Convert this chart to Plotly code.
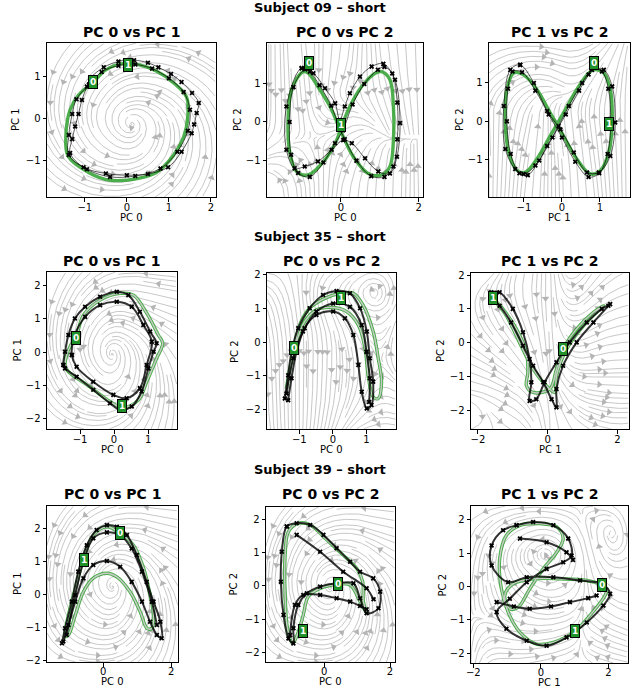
import math
import numpy as np
import plotly.graph_objects as go

try:
    from plotly.figure_factory._streamline import _Streamline
except Exception:  # pragma: no cover
    _Streamline = None
import plotly.figure_factory as ff

W, H = 632, 687

# ---------------------------------------------------------------- data
SUBJECT_TITLES = ["Subject 09 \u2013 short", "Subject 35 \u2013 short", "Subject 39 \u2013 short"]
PANEL_TITLES = ["PC 0 vs PC 1", "PC 0 vs PC 2", "PC 1 vs PC 2"]
PANEL_XLABELS = ["PC 0", "PC 0", "PC 1"]
PANEL_YLABELS = ["PC 1", "PC 2", "PC 2"]

# ---- Subject 09, PC0 vs PC1
S09_01_GREEN_X = [-0.80, -0.50, -0.10, 0.30, 0.70, 1.10, 1.42, 1.45, 1.35, 1.10, 0.70, 0.30, -0.40, -0.90, -1.40, -1.45, -1.35, -1.15, -0.80]
S09_01_GREEN_Y = [0.86, 1.15, 1.30, 1.27, 1.12, 0.85, 0.50, 0.05, -0.45, -0.90, -1.30, -1.43, -1.48, -1.30, -0.90, -0.40, 0.20, 0.55, 0.86]
S09_01_BLACK_A_X = [-0.87, -0.55, -0.20, 0.17, 0.50, 0.75, 1.05, 1.30, 1.55, 1.71, 1.66, 1.60, 1.54, 1.30, 0.98, 0.50, 0.00, -0.50, -1.03, -1.35, -1.30, -1.23, -1.15, -1.07, -0.95, -0.87]
S09_01_BLACK_A_Y = [0.95, 1.21, 1.35, 1.38, 1.32, 1.21, 1.05, 0.86, 0.60, 0.36, 0.12, -0.15, -0.36, -0.80, -1.17, -1.33, -1.36, -1.32, -1.17, -0.83, -0.50, -0.20, 0.10, 0.43, 0.75, 0.95]
S09_01_BLACK_B_X = [-0.90, -0.60, -0.20, 0.20, 0.60, 1.00, 1.35, 1.50, 1.45, 1.20, 0.80, 0.20, -0.40, -0.95, -1.38, -1.38, -1.30, -1.20, -0.90]
S09_01_BLACK_B_Y = [0.80, 1.10, 1.25, 1.28, 1.18, 0.95, 0.62, 0.20, -0.30, -0.80, -1.20, -1.38, -1.40, -1.22, -0.88, -0.40, 0.10, 0.45, 0.80]
S09_01_LABELS = [(-0.80, 0.86, "0"), (0.02, 1.27, "1")]
S09_01_FIELD = [
    [325, 340, 2, 28, 50, 65],
    [310, 323, 352, 38, 67, 80],
    [291, 295, 313, 77, 95, 99],
    [270, 262, 233, 157, 128, 120],
    [253, 239, 213, 177, 151, 137],
    [240, 226, 206, 184, 164, 150],
]

# ---- Subject 09, PC0 vs PC2
S09_02_GREEN_X = [-0.97, -1.27, -1.36, -1.31, -1.14, -0.84, -0.41, -0.11, 0.00, 0.23, 0.53, 0.88, 1.05, 1.26, 1.35, 1.35, 1.26, 1.05, 0.70, 0.32, 0.06, -0.07, -0.28, -0.59, -0.84, -0.97]
S09_02_GREEN_Y = [1.30, 0.83, -0.03, -0.81, -1.28, -1.37, -0.98, -0.47, -0.16, 0.40, 0.91, 1.26, 1.30, 1.09, 0.40, -0.47, -1.15, -1.37, -1.33, -0.90, -0.38, -0.08, 0.40, 0.91, 1.26, 1.30]
S09_02_BLACK_A_X = [-1.01, -1.40, -1.40, -1.19, -0.93, -0.59, -0.24, 0.06, 0.28, 0.62, 0.96, 1.26, 1.44, 1.52, 1.39, 1.09, 0.79, 0.49, 0.23, 0.10, -0.03, -0.15, -0.41, -0.71, -1.01]
S09_02_BLACK_A_Y = [1.39, 0.40, -0.72, -1.20, -1.15, -1.02, -0.72, -0.47, -0.55, -0.94, -1.28, -1.33, -0.90, -0.03, 1.09, 1.50, 1.43, 1.17, 0.74, 0.40, 0.05, 0.48, 0.87, 1.26, 1.39]
S09_02_BLACK_B_X = [-0.92, -1.22, -1.32, -1.28, -1.10, -0.80, -0.45, -0.15, 0.05, 0.30, 0.60, 0.95, 1.12, 1.32, 1.45, 1.45, 1.35, 1.12, 0.78, 0.40, 0.10, -0.05, -0.25, -0.55, -0.80, -0.92]
S09_02_BLACK_B_Y = [1.36, 0.90, 0.00, -0.85, -1.32, -1.42, -1.05, -0.55, -0.22, 0.45, 0.98, 1.35, 1.42, 1.25, 0.50, -0.45, -1.15, -1.42, -1.40, -1.00, -0.45, -0.12, 0.42, 0.95, 1.30, 1.36]
S09_02_LABELS = [(-0.82, 1.52, "0"), (0.00, -0.08, "1")]
S09_02_FIELD = [
    [95, 90, 85, 90, 90],
    [200, 120, 60, 80, 95],
    [265, 280, 20, 290, 270],
    [270, 275, 250, 285, 270],
    [270, 275, 265, 275, 270],
]

# ---- Subject 09, PC1 vs PC2
S09_12_GREEN_X = [0.83, 1.10, 1.27, 1.32, 1.23, 1.01, 0.75, 0.39, 0.04, -0.31, -0.66, -1.01, -1.27, -1.45, -1.49, -1.40, -1.18, -0.97, -0.66, -0.31, 0.04, 0.39, 0.66, 0.83]
S09_12_GREEN_Y = [1.34, 1.26, 0.83, -0.03, -0.81, -1.28, -1.37, -0.98, -0.38, 0.22, 0.83, 1.21, 1.26, 0.83, -0.03, -0.81, -1.28, -1.33, -0.98, -0.38, 0.22, 0.83, 1.21, 1.34]
S09_12_BLACK_A_X = [-1.10, -1.36, -1.53, -1.49, -1.23, -1.01, -0.70, -0.39, -0.09, 0.18, 0.53, 0.79, 1.10, 1.32, 1.40, 1.27, 0.97, 0.66, 0.31, -0.04, -0.39, -0.74, -1.10]
S09_12_BLACK_A_Y = [1.47, 1.34, 0.40, -0.72, -1.24, -1.37, -1.15, -0.64, -0.12, 0.40, 1.00, 1.34, 1.34, 0.91, -0.03, -0.90, -1.33, -1.33, -0.81, -0.21, 0.27, 1.00, 1.47]
S09_12_BLACK_B_X = [0.78, 1.05, 1.22, 1.28, 1.20, 0.98, 0.70, 0.35, 0.00, -0.35, -0.70, -1.05, -1.30, -1.42, -1.45, -1.35, -1.12, -0.90, -0.60, -0.25, 0.10, 0.45, 0.70, 0.78]
S09_12_BLACK_B_Y = [1.40, 1.30, 0.85, 0.00, -0.85, -1.35, -1.45, -1.05, -0.42, 0.18, 0.80, 1.28, 1.30, 0.85, 0.00, -0.85, -1.35, -1.40, -1.02, -0.42, 0.18, 0.80, 1.22, 1.40]
S09_12_LABELS = [(0.83, 1.52, "0"), (1.25, -0.08, "1")]
S09_12_FIELD = [
    [90, 85, 90, 95, 90],
    [90, 80, 95, 100, 90],
    [95, 75, 100, 95, 90],
    [45, 20, 330, 60, 90],
    [20, 0, 350, 30, 80],
]

# ---- Subject 35, PC0 vs PC1
S35_01_GREEN_X = [-1.12, -0.90, -0.41, 0.18, 0.57, 0.96, 1.30, 1.43, 1.25, 0.96, 0.72, 0.27, -0.12, -0.71, -1.34, -1.44, -1.39, -1.27, -1.12]
S35_01_GREEN_Y = [0.43, 1.10, 1.55, 1.75, 1.70, 1.16, 0.51, 0.26, -0.19, -0.89, -1.43, -1.66, -1.48, -1.04, -0.59, -0.44, -0.09, 0.21, 0.43]
S35_01_BLACK_A_X = [-1.49, -1.44, -1.34, -1.15, -0.85, -0.41, 0.08, 0.42, 0.76, 1.06, 1.25, 1.16, 1.01, 0.81, 0.52, 0.18, -0.12, -0.61, -1.10, -1.44, -1.49]
S35_01_BLACK_A_Y = [-0.39, 0.01, 0.51, 1.00, 1.35, 1.65, 1.80, 1.70, 1.20, 0.61, 0.26, 0.01, -0.49, -1.18, -1.63, -1.73, -1.53, -1.13, -0.74, -0.49, -0.39]
S35_01_BLACK_B_X = [-1.24, -1.15, -0.85, -0.41, 0.08, 0.52, 0.86, 1.11, 0.96, 0.76, 0.37, -0.02, -0.61, -1.10, -1.24]
S35_01_BLACK_B_Y = [-0.09, 0.51, 1.05, 1.40, 1.50, 1.35, 0.81, 0.31, -0.39, -1.08, -1.38, -1.28, -0.89, -0.44, -0.09]
S35_01_LABELS = [(-1.12, 0.43, "0"), (0.23, -1.61, "1")]
S35_01_FIELD = [
    [330, 345, 5, 30, 60, 80],
    [310, 323, 352, 38, 75, 95],
    [291, 295, 313, 77, 100, 120],
    [270, 262, 233, 157, 140, 150],
    [253, 239, 213, 177, 165, 170],
    [240, 226, 206, 184, 175, 175],
]

# ---- Subject 35, PC0 vs PC2
S35_02_GREEN_X = [-1.15, -0.99, -0.69, -0.24, 0.23, 0.61, 0.90, 1.20, 1.35, 1.45, 1.35, 1.20, 1.05, 0.96, 0.76, 0.41, 0.01, -0.49, -0.84, -1.08, -1.28, -1.38]
S35_02_GREEN_Y = [-0.19, 0.50, 1.00, 1.29, 1.44, 1.44, 1.09, 0.31, -0.48, -1.17, -1.67, -1.62, -0.98, -0.19, 0.50, 0.90, 1.02, 0.95, 0.60, 0.01, -0.78, -1.37]
S35_02_BLACK_A_X = [-1.43, -1.33, -1.23, -1.03, -0.69, -0.29, 0.11, 0.51, 0.81, 1.01, 1.10, 1.20, 1.15, 1.01, 0.86, 0.76, 0.61, 0.36, 0.01, -0.49, -0.84, -1.08, -1.23, -1.33]
S35_02_BLACK_A_Y = [-1.67, -0.98, -0.29, 0.41, 1.00, 1.39, 1.51, 1.44, 1.00, 0.31, -0.48, -1.17, -1.86, -1.96, -1.47, -0.68, 0.21, 0.70, 0.90, 0.80, 0.41, -0.29, -1.07, -1.72]
S35_02_BLACK_B_X = [-1.38, -1.18, -0.89, -0.49, 0.01, 0.51, 0.86, 1.00, 1.10, 1.08]
S35_02_BLACK_B_Y = [-1.52, -0.48, 0.31, 0.90, 1.14, 1.04, 0.50, -0.29, -1.07, -1.77]
S35_02_LABELS = [(-1.15, -0.19, "0"), (0.23, 1.31, "1")]
S35_02_FIELD = [
    [280, 270, 250, 200, 170],
    [270, 270, 265, 250, 150],
    [275, 270, 270, 290, 90],
    [290, 280, 300, 330, 60],
    [0, 270, 210, 200, 120],
]

# ---- Subject 35, PC1 vs PC2
S35_12_GREEN_X = [-1.56, -1.29, -0.90, -0.61, -0.57, -0.61, -0.42, 0.06, 0.25, 0.44, 0.83, 1.31, 1.60, 1.50, 1.02, 0.54, 0.25, 0.20, -0.04, -0.42, -0.81, -1.19, -1.48]
S35_12_GREEN_Y = [1.31, 1.00, 0.41, -0.29, -0.88, -1.27, -1.47, -1.37, -0.78, -0.19, 0.41, 0.90, 1.09, 1.00, 0.50, -0.19, -0.98, -1.47, -1.27, -0.78, 0.01, 0.80, 1.19]
S35_12_BLACK_A_X = [-1.62, -1.38, -1.00, -0.71, -0.52, -0.47, -0.52, -0.33, -0.09, 0.25, 0.63, 1.12, 1.55, 1.79]
S35_12_BLACK_A_Y = [1.49, 1.49, 1.00, 0.31, -0.48, -1.17, -1.72, -1.67, -1.17, -0.58, 0.01, 0.60, 1.00, 1.14]
S35_12_BLACK_B_X = [1.74, 1.31, 0.83, 0.44, 0.25, 0.25, 0.11, -0.13, -0.42, -0.71, -1.05, -1.38, -1.62]
S35_12_BLACK_B_Y = [1.09, 0.60, 0.01, -0.68, -1.37, -1.91, -1.67, -1.17, -0.68, -0.09, 0.60, 1.09, 1.34]
S35_12_LABELS = [(-1.56, 1.31, "1"), (0.44, -0.19, "0")]
S35_12_FIELD = [
    [200, 330, 270, 330, 10],
    [350, 330, 280, 350, 0],
    [330, 310, 270, 20, 0],
    [280, 300, 270, 40, 10],
    [190, 250, 270, 60, 20],
]

# ---- Subject 39, PC0 vs PC1
S39_01_GREEN_X = [-0.63, -0.29, 0.11, 0.50, 0.89, 1.19, 1.38, 1.48, 1.43, 1.29, 1.09, 0.79, 0.40, 0.11, -0.29, -0.58, -0.82, -1.02, -1.12, -1.02, -0.82, -0.63]
S39_01_GREEN_Y = [0.88, 1.79, 2.04, 1.84, 1.48, 0.78, -0.03, -0.64, -1.04, -1.04, -0.54, 0.07, 0.52, 0.63, 0.48, 0.07, -0.64, -1.24, -1.29, -0.64, 0.17, 0.88]
S39_01_BLACK_A_X = [-1.21, -1.12, -0.92, -0.73, -0.48, -0.19, 0.11, 0.40, 0.70, 0.99, 1.28, 1.48, 1.68, 1.72, 1.58, 1.38, 1.14, 0.84, 0.50, 0.11, -0.29, -0.58, -0.82, -1.02, -1.17]
S39_01_BLACK_A_Y = [-1.49, -1.04, -0.23, 0.68, 1.48, 1.94, 2.09, 2.04, 1.79, 1.18, 0.37, -0.23, -0.84, -1.34, -1.24, -0.84, -0.23, 0.37, 0.83, 1.00, 0.88, 0.48, -0.23, -0.94, -1.44]
S39_01_BLACK_B_X = [-1.07, -0.82, -0.58, -0.29, 0.11, 0.50, 0.84, 1.14, 1.43, 1.58]
S39_01_BLACK_B_Y = [-1.24, -0.03, 0.98, 1.69, 1.87, 1.79, 1.38, 0.68, -0.23, -0.94]
S39_01_LABELS = [(-0.55, 1.03, "1"), (0.50, 1.84, "0")]
S39_01_FIELD = [
    [330, 350, 0, 20, 50, 70],
    [300, 320, 350, 40, 70, 90],
    [280, 290, 320, 70, 100, 110],
    [265, 255, 230, 160, 130, 140],
    [250, 235, 210, 180, 160, 165],
    [235, 220, 200, 185, 175, 175],
]

# ---- Subject 39, PC0 vs PC2
S39_02_GREEN_X = [-1.18, -1.08, -0.78, -0.42, 0.08, 0.58, 0.99, 1.17, 1.19, 1.27, 1.09, 0.79, 0.43, -0.12, -0.48, -0.63, -0.78, -0.95, -1.11, -1.18, -1.18]
S39_02_GREEN_Y = [0.93, 1.64, 1.89, 1.84, 1.39, 0.93, 0.53, 0.13, -0.47, -0.77, -0.47, 0.03, 0.05, -0.07, -0.32, -0.87, -1.38, -1.73, -1.27, -0.27, 0.93]
S39_02_BLACK_A_X = [-1.13, -0.83, -0.42, -0.02, 0.38, 0.79, 1.09, 1.49, 1.70, 1.65, 1.29, 1.09, 0.89, 0.38, -0.12, -0.52, -0.78, -0.93, -0.93, -1.08, -1.23, -1.31, -1.28, -1.13]
S39_02_BLACK_A_Y = [1.79, 1.89, 1.84, 1.54, 1.14, 0.73, 0.43, 0.23, -0.17, -0.67, -0.82, -0.37, 0.08, 0.08, -0.02, -0.22, -0.57, -1.27, -1.73, -1.58, -0.87, 0.13, 1.03, 1.79]
S39_02_BLACK_B_X = [-1.03, -0.88, -0.63, -0.12, 0.38, 0.79, 1.09, 1.29]
S39_02_BLACK_B_Y = [-1.48, -0.57, -0.27, -0.27, -0.37, -0.47, -0.60, -0.70]
S39_02_BLACK_C_X = [-0.83, -0.12, 0.58, 1.29, 1.50]
S39_02_BLACK_C_Y = [1.54, 1.03, 0.43, -0.07, -0.40]
S39_02_LABELS = [(0.43, 0.05, "0"), (-0.65, -1.35, "1")]
S39_02_FIELD = [
    [330, 350, 0, 20, 50, 70],
    [300, 320, 350, 40, 70, 90],
    [280, 290, 320, 70, 100, 110],
    [265, 255, 230, 160, 130, 140],
    [250, 235, 210, 180, 160, 165],
    [235, 220, 200, 185, 175, 175],
]

# ---- Subject 39, PC1 vs PC2
S39_12_GREEN_X = [1.80, 1.36, 0.56, -0.23, -0.82, -1.07, -0.92, -0.67, -0.33, 0.07, 0.47, 0.66, 0.47, -0.03, -0.62, -1.02, -1.22, -1.17, -0.97, -0.62, -0.13, 0.37, 1.01, 1.45, 1.90, 1.95, 1.80]
S39_12_GREEN_Y = [0.05, 0.18, 0.23, 0.23, 0.08, -0.27, -0.67, -0.62, -0.07, 0.53, 1.03, 1.44, 1.79, 1.89, 1.84, 1.54, 0.83, -0.07, -0.77, -1.38, -1.73, -1.68, -1.35, -0.87, -0.27, -0.07, 0.05]
S39_12_BLACK_A_X = [-0.72, -0.23, 0.37, 0.81, 0.91, 0.66, 0.17, -0.42, -0.92, -1.31, -1.02, -0.42, 0.17, 0.76, 1.36, 1.85, 2.05, 1.80, 1.16, 0.37, -0.42, -0.97, -1.46, -1.46, -1.12, -0.72]
S39_12_BLACK_A_Y = [1.84, 1.94, 1.84, 1.44, 0.93, 0.73, 0.53, 0.13, -0.37, -0.77, -1.27, -1.63, -1.78, -1.53, -1.08, -0.57, -0.22, 0.08, 0.18, 0.28, 0.28, 0.13, 0.63, 1.23, 1.69, 1.84]
S39_12_BLACK_B_X = [-1.31, -0.80, -0.33, 0.30, 0.86, 1.40, 1.65]
S39_12_BLACK_B_Y = [-0.47, -0.60, -0.67, -0.60, -0.47, -0.35, -0.27]
S39_12_BLACK_C_X = [-0.62, 0.17, 0.76, 0.95]
S39_12_BLACK_C_Y = [1.44, 1.33, 1.03, 0.80]
S39_12_LABELS = [(1.80, 0.05, "0"), (1.01, -1.35, "1")]
S39_12_FIELD = [
    [90, 0, 10, 20, 160, 170],
    [80, 340, 0, 20, 150, 160],
    [270, 300, 330, 20, 120, 170],
    [260, 280, 320, 60, 110, 200],
    [250, 230, 200, 130, 100, 270],
    [200, 190, 180, 170, 0, 300],
]

# ---------------------------------------------------------------- layout
PANELS = [
    dict(box=(47, 216, 43, 197), xr=(-1.90, 2.12), yr=(-1.88, 1.79), xt=[-1, 0, 1, 2], yt=[-1, 0, 1],
         green=[(S09_01_GREEN_X, S09_01_GREEN_Y)],
         black=[(S09_01_BLACK_A_X, S09_01_BLACK_A_Y), (S09_01_BLACK_B_X, S09_01_BLACK_B_Y)],
         labels=S09_01_LABELS, field=S09_01_FIELD, ytoff=31),
    dict(box=(267, 423, 43, 197), xr=(-1.90, 2.11), yr=(-1.94, 2.04), xt=[0, 2], yt=[-1, 0, 1],
         green=[(S09_02_GREEN_X, S09_02_GREEN_Y)],
         black=[(S09_02_BLACK_A_X, S09_02_BLACK_A_Y), (S09_02_BLACK_B_X, S09_02_BLACK_B_Y)],
         labels=S09_02_LABELS, field=S09_02_FIELD, ytoff=29),
    dict(box=(489, 630, 43, 197), xr=(-1.92, 1.79), yr=(-1.97, 2.04), xt=[-1, 0, 1], yt=[-1, 0, 1],
         green=[(S09_12_GREEN_X, S09_12_GREEN_Y)],
         black=[(S09_12_BLACK_A_X, S09_12_BLACK_A_Y), (S09_12_BLACK_B_X, S09_12_BLACK_B_Y)],
         labels=S09_12_LABELS, field=S09_12_FIELD, ytoff=29),
    dict(box=(47, 177, 272, 429), xr=(-1.97, 1.85), yr=(-2.30, 2.39), xt=[-1, 0, 1], yt=[-2, -1, 0, 1, 2],
         green=[(S35_01_GREEN_X, S35_01_GREEN_Y)],
         black=[(S35_01_BLACK_A_X, S35_01_BLACK_A_Y), (S35_01_BLACK_B_X, S35_01_BLACK_B_Y)],
         labels=S35_01_LABELS, field=S35_01_FIELD, ytoff=30),
    dict(box=(267, 396, 273, 429), xr=(-1.96, 1.88), yr=(-2.57, 2.04), xt=[-1, 0, 1], yt=[-2, -1, 0, 1, 2],
         green=[(S35_02_GREEN_X, S35_02_GREEN_Y)],
         black=[(S35_02_BLACK_A_X, S35_02_BLACK_A_Y), (S35_02_BLACK_B_X, S35_02_BLACK_B_Y)],
         labels=S35_02_LABELS, field=S35_02_FIELD, ytoff=33),
    dict(box=(471, 629, 273, 429), xr=(-2.20, 2.33), yr=(-2.55, 2.06), xt=[-2, 0, 2], yt=[-2, -1, 0, 1, 2],
         green=[(S35_12_GREEN_X, S35_12_GREEN_Y)],
         black=[(S35_12_BLACK_A_X, S35_12_BLACK_A_Y), (S35_12_BLACK_B_X, S35_12_BLACK_B_Y)],
         labels=S35_12_LABELS, field=S35_12_FIELD, ytoff=31),
    dict(box=(47, 178, 506, 662), xr=(-1.65, 2.20), yr=(-2.06, 2.67), xt=[0, 2], yt=[-2, -1, 0, 1, 2],
         green=[(S39_01_GREEN_X, S39_01_GREEN_Y)],
         black=[(S39_01_BLACK_A_X, S39_01_BLACK_A_Y), (S39_01_BLACK_B_X, S39_01_BLACK_B_Y)],
         labels=S39_01_LABELS, field=S39_01_FIELD, ytoff=30),
    dict(box=(266, 395, 507, 662), xr=(-1.76, 2.15), yr=(-2.29, 2.38), xt=[0, 2], yt=[-2, -1, 0, 1, 2],
         green=[(S39_02_GREEN_X, S39_02_GREEN_Y)],
         black=[(S39_02_BLACK_A_X, S39_02_BLACK_A_Y), (S39_02_BLACK_B_X, S39_02_BLACK_B_Y),
                (S39_02_BLACK_C_X, S39_02_BLACK_C_Y)],
         labels=S39_02_LABELS, field=S39_02_FIELD, ytoff=33),
    dict(box=(471, 628, 506, 663), xr=(-2.07, 2.58), yr=(-2.30, 2.42), xt=[-2, 0, 2], yt=[-2, -1, 0, 1, 2],
         green=[(S39_12_GREEN_X, S39_12_GREEN_Y)],
         black=[(S39_12_BLACK_A_X, S39_12_BLACK_A_Y), (S39_12_BLACK_B_X, S39_12_BLACK_B_Y),
                (S39_12_BLACK_C_X, S39_12_BLACK_C_Y)],
         labels=S39_12_LABELS, field=S39_12_FIELD, ytoff=29),
]
SUBJECT_TITLE_Y = [8, 236, 469]
PANEL_TITLE_Y = [32, 261, 494]
XLABEL_GAP = [20, 20, 19.5]
XTICK_STANDOFF = [-3, -3, -4]

FONT = "DejaVu Sans"
STREAM_COLOR = "#c8c8c8"
ARROW_COLOR = "#b4b4b4"
GREEN = "rgba(46,160,46,0.85)"
BOX_GREEN = "#21912a"


def fmt(v):
    s = f"{v:g}"
    return s.replace("-", "\u2212")


def get_streams(xr, yr, angles, density=1.0):
    ang = np.radians(np.array(angles, dtype=float))
    ny, nx = ang.shape
    gx = np.linspace(xr[0], xr[1], nx)
    gy = np.linspace(yr[0], yr[1], ny)
    u = np.cos(ang) * (xr[1] - xr[0])
    v = np.sin(ang) * (yr[1] - yr[0])
    lines = []
    if _Streamline is not None:
        try:
            s = _Streamline(gx, gy, u, v, density, math.pi / 9, 0.09)
            for sx, sy in zip(s.st_x, s.st_y):
                lines.append((np.asarray(sx, float), np.asarray(sy, float)))
            return lines
        except Exception:
            lines = []
    f = ff.create_streamline(gx, gy, u, v, density=density, arrow_scale=0.001)
    xs = list(f.data[0].x)
    ys = list(f.data[0].y)
    cx, cy = [], []
    for a, b in zip(xs, ys):
        if a is None or b is None:
            if len(cx) > 2:
                lines.append((np.array(cx, float), np.array(cy, float)))
            cx, cy = [], []
        else:
            cx.append(a)
            cy.append(b)
    return lines


fig = go.Figure()
annotations = []
layout_axes = {}

for k, p in enumerate(PANELS):
    idx = k + 1
    col = k % 3
    row = k // 3
    xs_name = "x" if idx == 1 else f"x{idx}"
    ys_name = "y" if idx == 1 else f"y{idx}"
    l, r, t, b = p["box"]
    xr, yr = p["xr"], p["yr"]
    wpx, hpx = r - l, b - t

    # streamlines of the fitted vector field
    sl = get_streams(xr, yr, p["field"], density=1.55)
    lx, ly, ax_, ay_, aang = [], [], [], [], []
    for sx, sy in sl:
        ok = np.isfinite(sx) & np.isfinite(sy)
        sx, sy = sx[ok], sy[ok]
        if len(sx) < 3:
            continue
        lx.extend(sx.tolist() + [None])
        ly.extend(sy.tolist() + [None])
        px = (sx - xr[0]) / (xr[1] - xr[0]) * wpx
        py = (sy - yr[0]) / (yr[1] - yr[0]) * hpx
        seg = np.hypot(np.diff(px), np.diff(py))
        tot = float(seg.sum())
        if tot < 24:
            continue
        cum = np.concatenate([[0.0], np.cumsum(seg)])
        i = int(np.searchsorted(cum, tot / 2))
        i = max(1, min(i, len(sx) - 2))
        dx = px[i + 1] - px[i - 1]
        dy = py[i + 1] - py[i - 1]
        ax_.append(float(sx[i]))
        ay_.append(float(sy[i]))
        aang.append(float(math.degrees(math.atan2(dx, dy))))
    fig.add_trace(go.Scatter(x=lx, y=ly, mode="lines", xaxis=xs_name, yaxis=ys_name,
                             line=dict(color=STREAM_COLOR, width=1), hoverinfo="skip",
                             showlegend=False))
    fig.add_trace(go.Scatter(x=ax_, y=ay_, mode="markers", xaxis=xs_name, yaxis=ys_name,
                             marker=dict(symbol="triangle-up", size=6.5, color=ARROW_COLOR,
                                         angle=aang),
                             hoverinfo="skip", showlegend=False))

    # model rollout (green)
    for gx_, gy_ in p["green"]:
        fig.add_trace(go.Scatter(x=gx_, y=gy_, mode="lines", xaxis=xs_name, yaxis=ys_name,
                                 line=dict(color=GREEN, width=3.4, shape="spline", smoothing=1.0),
                                 hoverinfo="skip", showlegend=False))
        if row > 0:
            fig.add_trace(go.Scatter(x=gx_, y=gy_, mode="lines", xaxis=xs_name, yaxis=ys_name,
                                     line=dict(color="rgba(205,205,205,0.95)", width=1.4,
                                               shape="spline", smoothing=1.0),
                                     hoverinfo="skip", showlegend=False))
    # observed data (black x)
    bw = 0.8 if row == 0 else 2.0
    for bx_, by_ in p["black"]:
        fig.add_trace(go.Scatter(x=bx_, y=by_, mode="lines+markers", xaxis=xs_name, yaxis=ys_name,
                                 line=dict(color="rgba(0,0,0,0.8)", width=bw, shape="spline",
                                           smoothing=1.0),
                                 marker=dict(symbol="x", size=4.5, color="black"),
                                 hoverinfo="skip", showlegend=False))

    # numbered markers
    for (lxv, lyv, txt) in p["labels"]:
        annotations.append(dict(x=lxv, y=lyv, xref=xs_name, yref=ys_name, text=f"<b>{txt}</b>",
                                showarrow=False, font=dict(family=FONT, size=9, color="white"),
                                bgcolor=BOX_GREEN, bordercolor="black", borderwidth=1, borderpad=1))

    ax_key = "xaxis" if idx == 1 else f"xaxis{idx}"
    ay_key = "yaxis" if idx == 1 else f"yaxis{idx}"
    common = dict(showline=True, linecolor="black", linewidth=1, mirror=True, ticks="outside",
                  ticklen=3.5, tickwidth=0.8, tickcolor="black", showgrid=False, zeroline=False,
                  tickfont=dict(family=FONT, size=10, color="black"), fixedrange=True,
                  automargin=False)
    layout_axes[ax_key] = dict(common, domain=[l / W, r / W], range=list(xr), anchor=ys_name,
                               tickmode="array", tickvals=p["xt"], ticktext=[fmt(v) for v in p["xt"]],
                               ticklabelstandoff=XTICK_STANDOFF[row])
    layout_axes[ay_key] = dict(common, domain=[1 - b / H, 1 - t / H], range=list(yr), anchor=xs_name,
                               tickmode="array", tickvals=p["yt"], ticktext=[fmt(v) for v in p["yt"]])

    annotations.append(dict(x=(l + r) / 2 / W, y=1 - PANEL_TITLE_Y[row] / H, xref="paper", yref="paper",
                            text=f"<b>{PANEL_TITLES[col]}</b>", showarrow=False,
                            font=dict(family=FONT, size=14, color="black"),
                            xanchor="center", yanchor="middle"))
    annotations.append(dict(x=(l + r) / 2 / W, y=1 - (b + XLABEL_GAP[row]) / H, xref="paper", yref="paper",
                            text=PANEL_XLABELS[col], showarrow=False,
                            font=dict(family=FONT, size=10, color="black"),
                            xanchor="center", yanchor="middle"))
    annotations.append(dict(x=(l - p["ytoff"]) / W, y=1 - (t + b) / 2 / H, xref="paper", yref="paper",
                            text=PANEL_YLABELS[col], showarrow=False, textangle=-90,
                            font=dict(family=FONT, size=10, color="black"),
                            xanchor="center", yanchor="middle"))

for row, st in enumerate(SUBJECT_TITLES):
    annotations.append(dict(x=320 / W, y=1 - SUBJECT_TITLE_Y[row] / H, xref="paper", yref="paper",
                            text=f"<b>{st}</b>", showarrow=False,
                            font=dict(family=FONT, size=13, color="black"),
                            xanchor="center", yanchor="middle"))

fig.update_layout(width=W, height=H, margin=dict(l=0, r=0, t=0, b=0),
                  paper_bgcolor="white", plot_bgcolor="white", showlegend=False,
                  annotations=annotations, font=dict(family=FONT, color="black"),
                  **layout_axes)

fig.write_html("out.html", config={"displayModeBar": False})
